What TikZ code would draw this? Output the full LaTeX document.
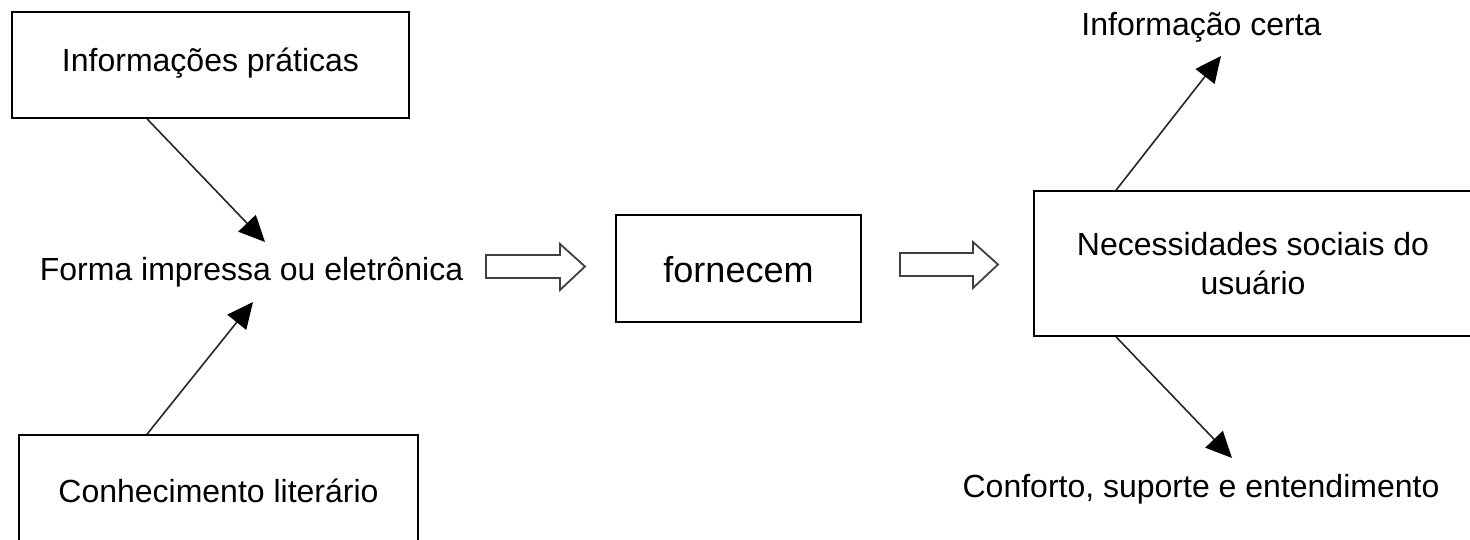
\documentclass[tikz,border=0pt]{standalone}
\usepackage{fontspec}
\setmainfont{Liberation Sans}
\usetikzlibrary{arrows.meta}
\tikzset{
  box/.style={draw=black, line width=1.8pt, inner sep=0pt, fill=white,
    font=\fontsize{32}{39}\selectfont, text height=22pt, text depth=8pt},
  plaintext/.style={inner sep=0pt, anchor=base, font=\fontsize{32}{39}\selectfont},
  conn/.style={draw=black!85, line width=1.6pt, -{Triangle[length=26pt,width=24pt,color=black]}},
  hollow/.style={draw=black!75, line width=1.8pt, line join=miter, fill=white}
}
\begin{document}
\begin{tikzpicture}[x=1pt,y=-1pt]
\useasboundingbox (0,0) rectangle (1470,540);
% boxes
\node[box, minimum width=397pt, minimum height=106pt] (info) at (210.5,65) {Informações práticas};
\node[box, minimum width=399pt, minimum height=120pt] (conh) at (218.5,495) {Conhecimento literário};
\node[box, minimum width=245pt, minimum height=107pt, font=\fontsize{36}{43}\selectfont,
      text height=33pt, text depth=4pt] (forn) at (738.5,268.5) {fornecem};
\node[box, minimum width=438pt, minimum height=145pt, align=center,
      text height=, text depth=] (nec) at (1253,263.5) {Necessidades sociais do\\usuário};
% free texts
\node[plaintext] (forma) at (251.5,280) {Forma impressa ou eletrônica};
\node[plaintext] (certa) at (1201.5,36) {Informação certa};
\node[plaintext] (conf) at (1201,497) {Conforto, suporte e entendimento};
% arrow tips
\coordinate (tipA) at (265,242);
\coordinate (tipB) at (253,302);
\coordinate (tipC) at (1221,56);
\coordinate (tipD) at (1232,458);
% connectors
\draw[conn] ([xshift=136pt]info.south west) -- (tipA);
\draw[conn] ([xshift=129pt]conh.north west) -- (tipB);
\draw[conn] ([xshift=83pt]nec.north west) -- (tipC);
\draw[conn] ([xshift=83pt]nec.south west) -- (tipD);
% hollow block arrows
\draw[hollow] (486,255) -- (560,255) -- (560,244) -- (585,266.5) -- (560,290) -- (560,278) -- (486,278) -- cycle;
\draw[hollow] (900,253) -- (973,253) -- (973,242) -- (998,264.5) -- (973,288) -- (973,276) -- (900,276) -- cycle;
\end{tikzpicture}
\end{document}
